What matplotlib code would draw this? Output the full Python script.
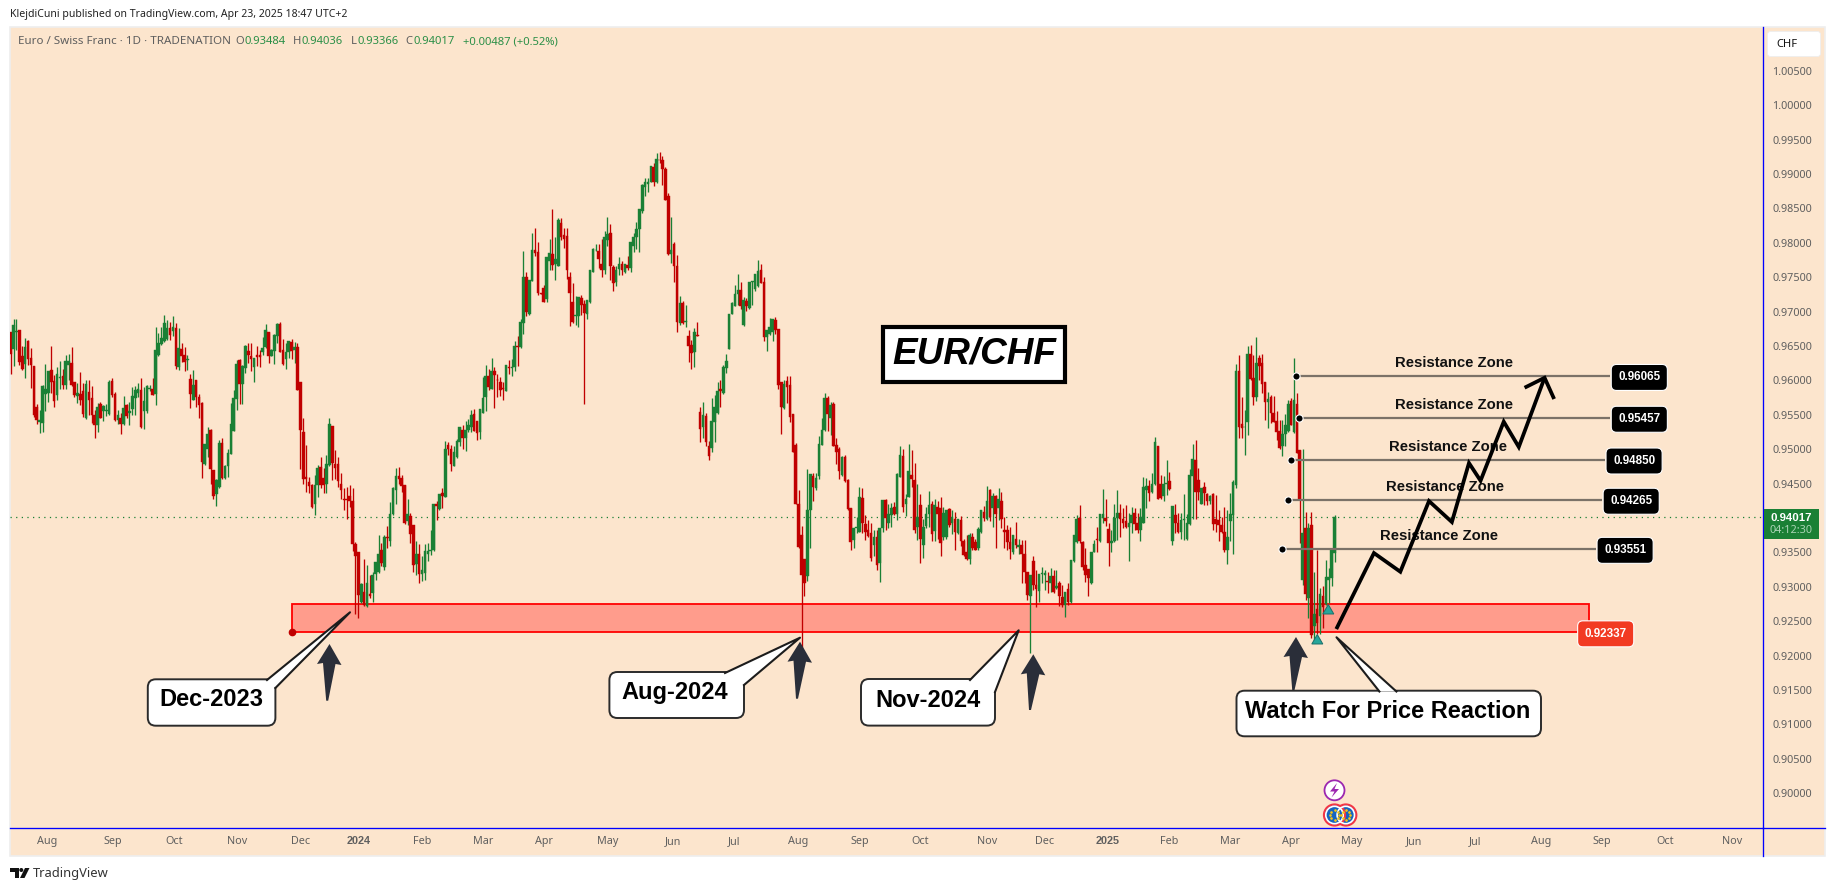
"""
EUR/CHF daily candles with support zone, resistance levels and projected path.
Output: out.png
"""
import numpy as np
import matplotlib
matplotlib.use("Agg")
import matplotlib.pyplot as plt
from matplotlib.patches import Rectangle, FancyBboxPatch, Polygon, Circle

plt.rcParams["font.family"] = ["Noto Sans", "DejaVu Sans"]
BOLD_FONT = "Liberation Sans"

# open, high, low, close per daily bar
bars_2023 = [
    (.9670,.9670,.9610,.9639),(.9646,.9689,.9621,.9681),(.9671,.9689,.9644,.9672),(.9674,.9674,.9622,.9627),
    (.9635,.9650,.9615,.9617),(.9624,.9661,.9604,.9648),(.9658,.9659,.9622,.9631),(.9632,.9647,.9589,.9622),
    (.9621,.9621,.9547,.9550),(.9561,.9566,.9537,.9542),(.9539,.9557,.9524,.9542),(.9538,.9593,.9525,.9592),
    (.9580,.9624,.9555,.9588),(.9582,.9614,.9569,.9614),(.9615,.9650,.9581,.9598),(.9599,.9608,.9562,.9570),
    (.9579,.9620,.9571,.9609),(.9604,.9628,.9588,.9605),(.9606,.9617,.9588,.9593),(.9593,.9637,.9588,.9628),
    (.9622,.9639,.9600,.9628),(.9625,.9648,.9592,.9593),(.9597,.9597,.9576,.9579),(.9577,.9596,.9567,.9581),
    (.9580,.9612,.9564,.9572),(.9585,.9596,.9547,.9551),(.9546,.9601,.9544,.9595),(.9583,.9601,.9550,.9572),
    (.9574,.9592,.9538,.9550),(.9550,.9557,.9517,.9535),(.9535,.9567,.9525,.9561),(.9566,.9569,.9545,.9546),
    (.9556,.9564,.9541,.9563),(.9556,.9566,.9548,.9557),(.9551,.9601,.9550,.9598),(.9599,.9603,.9576,.9579),
    (.9580,.9583,.9541,.9542),(.9543,.9557,.9537,.9550),(.9546,.9552,.9522,.9536),(.9536,.9577,.9535,.9560),
    (.9564,.9566,.9546,.9548),(.9552,.9569,.9535,.9555),(.9558,.9591,.9550,.9577),(.9574,.9592,.9550,.9586),
    (.9581,.9596,.9576,.9588),(.9586,.9603,.9531,.9533),(.9556,.9591,.9529,.9570),(.9556,.9593,.9552,.9592),
    (.9588,.9593,.9585,.9589),(.9588,.9604,.9579,.9579),(.9580,.9677,.9564,.9644),(.9637,.9669,.9635,.9655),
    (.9653,.9678,.9652,.9661),(.9658,.9695,.9656,.9683),(.9660,.9688,.9659,.9676),(.9676,.9685,.9659,.9666),
    (.9672,.9694,.9665,.9677),(.9676,.9683,.9617,.9621),(.9620,.9676,.9615,.9647),(.9645,.9655,.9627,.9635),
    (.9637,.9649,.9614,.9627),(.9629,.9637,.9615,.9631),(.9602,.9609,.9560,.9580),(.9572,.9615,.9572,.9594),
    (.9600,.9600,.9562,.9576),(.9576,.9580,.9546,.9564),(.9567,.9568,.9458,.9481),(.9478,.9507,.9477,.9507),
    (.9501,.9533,.9489,.9522),(.9528,.9530,.9449,.9471),(.9470,.9470,.9428,.9432),(.9435,.9456,.9417,.9455),
    (.9445,.9513,.9443,.9509),(.9509,.9516,.9457,.9458),(.9458,.9477,.9457,.9476),(.9475,.9500,.9460,.9494),
    (.9493,.9567,.9493,.9537),(.9527,.9586,.9526,.9575),(.9573,.9630,.9557,.9624),(.9629,.9631,.9566,.9595),
    (.9595,.9622,.9566,.9621),(.9618,.9651,.9611,.9650),(.9643,.9655,.9625,.9637),(.9636,.9654,.9613,.9631),
    (.9620,.9632,.9598,.9632),(.9637,.9650,.9621,.9634),(.9637,.9644,.9620,.9634),(.9642,.9663,.9637,.9647),
    (.9648,.9682,.9647,.9673),(.9670,.9671,.9625,.9636),(.9636,.9645,.9635,.9644),(.9643,.9668,.9624,.9666),
    (.9665,.9684,.9654,.9682),(.9682,.9685,.9641,.9642),(.9644,.9660,.9622,.9624),(.9631,.9655,.9617,.9642),
    (.9642,.9658,.9632,.9657),(.9656,.9660,.9631,.9643),(.9644,.9656,.9625,.9649),(.9648,.9655,.9586,.9586),
    (.9597,.9598,.9471,.9528),(.9525,.9546,.9449,.9457),(.9459,.9506,.9438,.9457),(.9453,.9460,.9436,.9447),
    (.9448,.9449,.9415,.9416),(.9420,.9462,.9404,.9448),(.9448,.9477,.9430,.9472),(.9474,.9489,.9443,.9448),
    (.9458,.9472,.9436,.9448),(.9449,.9491,.9436,.9479),(.9477,.9545,.9476,.9536),(.9534,.9534,.9455,.9480),
    (.9479,.9499,.9457,.9472),(.9479,.9489,.9445,.9454),(.9449,.9465,.9428,.9440),(.9427,.9443,.9412,.9426),
    (.9427,.9445,.9399,.9426),(.9432,.9448,.9416,.9424),(.9424,.9444,.9352,.9362),(.9362,.9365,.9261,.9345),
]
bars_h1_2024 = [
    (.9350,.9350,.9255,.9288),(.9278,.9305,.9277,.9304),(.9292,.9340,.9272,.9273),(.9272,.9332,.9271,.9306),
    (.9290,.9317,.9284,.9286),(.9291,.9322,.9278,.9317),(.9318,.9336,.9310,.9336),(.9322,.9375,.9320,.9348),
    (.9353,.9363,.9330,.9335),(.9329,.9375,.9324,.9372),(.9372,.9389,.9356,.9371),(.9367,.9423,.9359,.9406),
    (.9406,.9445,.9404,.9444),(.9440,.9472,.9421,.9461),(.9461,.9474,.9450,.9456),(.9458,.9462,.9438,.9446),
    (.9448,.9448,.9391,.9392),(.9395,.9427,.9390,.9406),(.9403,.9407,.9364,.9377),(.9390,.9390,.9322,.9331),
    (.9333,.9366,.9317,.9348),(.9348,.9362,.9306,.9318),(.9318,.9344,.9309,.9325),(.9320,.9362,.9310,.9352),
    (.9348,.9363,.9338,.9352),(.9352,.9382,.9346,.9354),(.9353,.9420,.9352,.9420),(.9420,.9424,.9397,.9418),
    (.9413,.9435,.9412,.9435),(.9436,.9443,.9414,.9432),(.9431,.9512,.9430,.9500),(.9506,.9511,.9491,.9501),
    (.9501,.9506,.9469,.9478),(.9475,.9504,.9475,.9496),(.9489,.9515,.9487,.9512),(.9511,.9532,.9505,.9532),
    (.9528,.9535,.9501,.9517),(.9516,.9541,.9498,.9528),(.9528,.9544,.9525,.9535),(.9533,.9557,.9525,.9550),
    (.9551,.9558,.9527,.9527),(.9541,.9541,.9513,.9524),(.9525,.9559,.9515,.9558),(.9553,.9605,.9553,.9575),
    (.9576,.9622,.9556,.9606),(.9606,.9617,.9586,.9591),(.9588,.9633,.9587,.9614),(.9614,.9619,.9560,.9608),
    (.9601,.9609,.9576,.9600),(.9598,.9605,.9577,.9586),(.9589,.9598,.9571,.9587),(.9585,.9622,.9585,.9622),
    (.9620,.9630,.9610,.9618),(.9618,.9631,.9607,.9620),(.9620,.9658,.9614,.9650),(.9650,.9664,.9621,.9648),
    (.9648,.9689,.9647,.9685),(.9684,.9788,.9667,.9750),(.9750,.9757,.9693,.9700),(.9697,.9746,.9695,.9746),
    (.9745,.9815,.9745,.9790),(.9790,.9821,.9781,.9786),(.9787,.9801,.9724,.9727),(.9727,.9727,.9725,.9726),
    (.9734,.9739,.9714,.9714),(.9718,.9779,.9714,.9779),(.9773,.9806,.9761,.9785),(.9784,.9849,.9761,.9768),
    (.9769,.9808,.9746,.9776),(.9766,.9836,.9766,.9833),(.9829,.9836,.9804,.9808),(.9811,.9821,.9793,.9806),
    (.9810,.9821,.9747,.9761),(.9751,.9757,.9679,.9727),(.9714,.9742,.9684,.9685),(.9694,.9723,.9681,.9695),
    (.9694,.9721,.9678,.9721),(.9720,.9724,.9695,.9710),(.9711,.9717,.9566,.9698),(.9696,.9717,.9690,.9717),
    (.9714,.9761,.9713,.9761),(.9758,.9793,.9758,.9791),(.9789,.9799,.9788,.9790),(.9788,.9798,.9763,.9776),
    (.9769,.9805,.9751,.9761),(.9760,.9817,.9755,.9808),(.9804,.9837,.9795,.9813),(.9815,.9827,.9746,.9766),
    (.9765,.9768,.9730,.9741),(.9743,.9766,.9737,.9761),(.9762,.9780,.9753,.9769),(.9769,.9774,.9753,.9761),
    (.9757,.9770,.9756,.9769),(.9768,.9781,.9761,.9764),(.9764,.9802,.9757,.9801),(.9796,.9814,.9787,.9808),
    (.9809,.9831,.9791,.9820),(.9820,.9849,.9787,.9849),(.9847,.9885,.9843,.9884),(.9881,.9895,.9868,.9888),
    (.9886,.9895,.9874,.9888),(.9889,.9912,.9888,.9912),(.9911,.9916,.9883,.9889),(.9888,.9930,.9887,.9922),
    (.9921,.9932,.9916,.9920),(.9920,.9926,.9884,.9907),(.9907,.9910,.9862,.9863),(.9868,.9872,.9782,.9784),
]
bars_h2_2024 = [
    (.9784,.9837,.9771,.9790),(.9798,.9802,.9743,.9766),(.9766,.9782,.9670,.9685),(.9684,.9723,.9680,.9712),
    (.9712,.9716,.9682,.9683),(.9685,.9710,.9678,.9686),(.9665,.9673,.9627,.9650),(.9652,.9659,.9617,.9640),
    (.9641,.9676,.9620,.9670),(.9666,.9685,.9664,.9665),(.9554,.9562,.9511,.9530),(.9532,.9569,.9517,.9550),
    (.9548,.9552,.9505,.9510),(.9505,.9512,.9484,.9490),(.9502,.9574,.9496,.9541),(.9539,.9579,.9510,.9561),
    (.9552,.9597,.9551,.9585),(.9587,.9601,.9562,.9584),(.9582,.9622,.9580,.9619),(.9618,.9639,.9611,.9628),
    (.9645,.9697,.9645,.9697),(.9697,.9714,.9696,.9713),(.9708,.9739,.9708,.9726),(.9726,.9755,.9710,.9731),
    (.9731,.9743,.9704,.9708),(.9681,.9721,.9679,.9717),(.9715,.9720,.9701,.9708),(.9705,.9743,.9704,.9743),
    (.9743,.9745,.9710,.9744),(.9733,.9755,.9730,.9755),(.9738,.9775,.9736,.9759),(.9761,.9770,.9741,.9741),
    (.9743,.9750,.9658,.9663),(.9663,.9673,.9643,.9673),(.9667,.9691,.9666,.9677),(.9670,.9690,.9658,.9689),
    (.9688,.9692,.9668,.9674),(.9675,.9675,.9588,.9593),(.9598,.9598,.9522,.9562),(.9560,.9600,.9559,.9595),
    (.9599,.9606,.9567,.9590),(.9593,.9607,.9540,.9547),(.9551,.9551,.9496,.9496),(.9506,.9509,.9420,.9421),
    (.9421,.9441,.9356,.9358),(.9375,.9388,.9205,.9317),(.9340,.9340,.9286,.9306),(.9315,.9471,.9309,.9412),
    (.9412,.9464,.9356,.9464),(.9461,.9465,.9425,.9445),(.9444,.9465,.9441,.9458),(.9461,.9519,.9456,.9508),
    (.9506,.9545,.9506,.9528),(.9528,.9581,.9527,.9575),(.9574,.9577,.9527,.9551),(.9545,.9569,.9520,.9564),
    (.9565,.9568,.9505,.9505),(.9506,.9517,.9478,.9496),(.9501,.9503,.9457,.9468),(.9462,.9490,.9461,.9488),
    (.9488,.9491,.9453,.9454),(.9455,.9456,.9412,.9413),(.9414,.9414,.9353,.9365),(.9368,.9386,.9356,.9386),
    (.9386,.9402,.9378,.9387),(.9380,.9445,.9379,.9430),(.9429,.9444,.9378,.9392),(.9391,.9404,.9368,.9380),
    (.9383,.9397,.9373,.9374),(.9378,.9392,.9338,.9342),(.9361,.9383,.9344,.9372),(.9372,.9383,.9324,.9332),
    (.9335,.9385,.9307,.9385),(.9385,.9426,.9380,.9426),(.9426,.9427,.9383,.9400),(.9392,.9421,.9385,.9406),
    (.9405,.9422,.9387,.9414),(.9416,.9423,.9405,.9406),(.9406,.9465,.9397,.9464),(.9460,.9505,.9459,.9491),
    (.9490,.9501,.9409,.9416),(.9421,.9435,.9403,.9428),(.9431,.9508,.9430,.9468),(.9462,.9499,.9445,.9457),
    (.9455,.9480,.9378,.9383),(.9387,.9450,.9368,.9402),(.9419,.9435,.9334,.9370),(.9360,.9399,.9342,.9387),
    (.9388,.9416,.9385,.9406),(.9406,.9439,.9387,.9419),(.9420,.9424,.9367,.9376),(.9381,.9428,.9366,.9419),
    (.9416,.9425,.9370,.9406),(.9415,.9431,.9345,.9364),(.9373,.9416,.9368,.9407),(.9373,.9412,.9370,.9411),
    (.9413,.9415,.9387,.9390),(.9392,.9412,.9377,.9401),(.9399,.9409,.9353,.9380),(.9378,.9399,.9376,.9399),
    (.9397,.9403,.9359,.9367),(.9367,.9370,.9344,.9346),(.9350,.9375,.9339,.9340),(.9341,.9378,.9333,.9375),
    (.9372,.9378,.9353,.9356),(.9365,.9370,.9353,.9354),(.9356,.9387,.9353,.9384),(.9379,.9411,.9378,.9411),
    (.9409,.9417,.9396,.9400),(.9399,.9446,.9397,.9424),(.9440,.9442,.9395,.9402),(.9414,.9436,.9387,.9432),
    (.9432,.9433,.9356,.9406),(.9414,.9443,.9397,.9427),(.9425,.9438,.9386,.9399),(.9383,.9402,.9356,.9380),
    (.9383,.9390,.9353,.9365),(.9365,.9387,.9341,.9355),(.9351,.9375,.9348,.9375),(.9370,.9394,.9356,.9360),
    (.9358,.9370,.9348,.9361),(.9360,.9368,.9305,.9347),(.9347,.9368,.9305,.9321),(.9322,.9322,.9280,.9288),
    (.9287,.9317,.9204,.9317),(.9337,.9345,.9295,.9302),(.9302,.9324,.9271,.9297),(.9294,.9319,.9278,.9318),
    (.9318,.9328,.9305,.9320),(.9317,.9324,.9295,.9320),(.9308,.9322,.9291,.9307),(.9305,.9327,.9292,.9316),
    (.9315,.9324,.9291,.9293),(.9298,.9324,.9296,.9301),(.9306,.9308,.9272,.9286),(.9285,.9303,.9271,.9274),
    (.9274,.9293,.9256,.9293),(.9296,.9305,.9273,.9278),(.9278,.9339,.9276,.9339),(.9337,.9375,.9336,.9375),
    (.9365,.9405,.9364,.9399),(.9400,.9419,.9363,.9367),(.9365,.9366,.9325,.9328),(.9332,.9357,.9307,.9317),
    (.9326,.9326,.9287,.9312),(.9305,.9350,.9304,.9350),
]
bars_2025 = [
    (.9351,.9368,.9350,.9362),(.9369,.9387,.9351,.9368),(.9367,.9406,.9365,.9406),(.9400,.9442,.9392,.9406),
    (.9400,.9428,.9388,.9395),(.9384,.9392,.9330,.9363),(.9364,.9382,.9351,.9366),(.9367,.9421,.9365,.9400),
    (.9400,.9440,.9368,.9407),(.9407,.9420,.9373,.9398),(.9398,.9414,.9385,.9393),(.9396,.9419,.9385,.9387),
    (.9387,.9407,.9338,.9393),(.9392,.9416,.9378,.9404),(.9407,.9414,.9382,.9391),(.9393,.9407,.9378,.9382),
    (.9383,.9414,.9367,.9402),(.9393,.9460,.9392,.9445),(.9440,.9458,.9414,.9447),(.9447,.9455,.9425,.9437),
    (.9438,.9465,.9436,.9450),(.9449,.9518,.9448,.9511),(.9504,.9504,.9427,.9428),(.9450,.9462,.9428,.9429),
    (.9432,.9461,.9425,.9450),(.9450,.9485,.9433,.9451),(.9454,.9467,.9441,.9442),(.9367,.9417,.9361,.9417),
    (.9404,.9420,.9378,.9393),(.9393,.9407,.9378,.9380),(.9379,.9407,.9370,.9397),(.9397,.9435,.9368,.9398),
    (.9370,.9406,.9368,.9392),(.9391,.9471,.9390,.9463),(.9461,.9508,.9399,.9486),(.9485,.9513,.9399,.9438),
    (.9455,.9472,.9426,.9438),(.9421,.9443,.9420,.9443),(.9445,.9453,.9419,.9436),(.9435,.9436,.9419,.9425),
    (.9425,.9433,.9420,.9432),(.9435,.9436,.9382,.9391),(.9398,.9433,.9380,.9391),(.9397,.9412,.9367,.9390),
    (.9390,.9402,.9378,.9380),(.9380,.9416,.9351,.9353),(.9353,.9411,.9333,.9372),(.9396,.9436,.9367,.9406),
    (.9404,.9455,.9348,.9452),(.9448,.9624,.9444,.9614),(.9614,.9637,.9516,.9532),(.9536,.9576,.9516,.9531),
    (.9532,.9557,.9491,.9533),(.9540,.9650,.9520,.9638),(.9638,.9652,.9601,.9602),(.9604,.9637,.9564,.9576),
    (.9576,.9663,.9570,.9626),(.9632,.9637,.9601,.9621),(.9625,.9638,.9581,.9595),(.9597,.9598,.9542,.9568),
    (.9569,.9583,.9531,.9573),(.9576,.9579,.9538,.9552),(.9552,.9577,.9539,.9540),(.9541,.9555,.9513,.9525),
    (.9526,.9543,.9501,.9502),(.9505,.9542,.9490,.9522),(.9522,.9551,.9504,.9535),(.9527,.9572,.9525,.9566),
    (.9570,.9574,.9535,.9535),(.9525,.9633,.9524,.9571),(.9566,.9581,.9494,.9495),(.9499,.9499,.9364,.9428),
    (.9310,.9501,.9302,.9378),(.9385,.9409,.9280,.9289),(.9284,.9393,.9255,.9385),(.9390,.9409,.9225,.9230),
    (.9243,.9322,.9222,.9260),(.9267,.9353,.9232,.9248),(.9257,.9298,.9231,.9290),(.9287,.9301,.9240,.9270),
    (.9275,.9339,.9273,.9314),(.9310,.9327,.9277,.9314),(.9313,.9354,.9301,.9353),(.93484,.94036,.93366,.94017),
]

last_close = 0.94017
price_ticks = [0.90, 0.905, 0.91, 0.915, 0.92, 0.925, 0.93, 0.935, 0.94, 0.945, 0.95,
               0.955, 0.96, 0.965, 0.97, 0.975, 0.98, 0.985, 0.99, 0.995, 1.0, 1.005]
month_bars = [12.5, 35.3, 56.4, 78.3, 100.2, 120.2, 142, 163, 184, 206, 228.6, 249.7,
              271.8, 293, 314, 337, 357, 378.5, 400, 421, 442, 463, 484.6, 505.5,
              528.3, 549.3, 571, 594.2]
month_labels = ["Aug", "Sep", "Oct", "Nov", "Dec", "2024", "Feb", "Mar", "Apr", "May", "Jun", "Jul",
                "Aug", "Sep", "Oct", "Nov", "Dec", "2025", "Feb", "Mar", "Apr", "May", "Jun", "Jul",
                "Aug", "Sep", "Oct", "Nov"]

res_levels = [0.96065, 0.95457, 0.94850, 0.94265, 0.93551]
res_start = [443.7, 444.7, 441.9, 440.9, 438.8]
res_end = [552.1, 552.1, 550.3, 549.3, 547.2]
res_text_bar = [498.2, 498.2, 496.1, 495.1, 493.0]
zone_bottom, zone_top = 0.92337, 0.92745
zone_start, zone_end = 97.2, 544.7
path_bars = [457.6, 470.6, 479.7, 489.6, 497.5, 503.4, 507.4, 515.4, 520.6, 529.5]
path_prices = [.92385, .93490, .93218, .94246, .93941, .94799, .94542, .95400, .95032, .96039]
head_bars = [522.6, 529.5, 532.8]
head_prices = [.95894, .96039, .95730]

BG = "#FCE5CD"
UP = "#1A8035"
DOWN = "#C00000"
BLUE = "#0000FF"
DARK = "#2A2E39"
TXT = "#5F5F5F"


def bubble(ov, box, tip, base1, base2, label, center):
    x0, y0, x1, y1 = box
    ov.add_patch(FancyBboxPatch((x0+5, y0+5), x1-x0-10, y1-y0-10, boxstyle="round,pad=5,rounding_size=8",
                                fc="white", ec="#2b2b2b", lw=1.4, zorder=5))
    ov.add_patch(Polygon([tip, base1, base2], closed=True, fc="white", ec="none", zorder=6))
    ov.plot([base1[0], tip[0], base2[0]], [base1[1], tip[1], base2[1]], color="#1c1c1c", lw=1.5, zorder=7)
    ov.text(center[0], center[1], label, ha="center", va="center", fontsize=17, fontweight="bold",
            family=BOLD_FONT, color="black", zorder=8)


def up_arrow(ov, tip, bottom):
    tx, ty = tip
    bx, by = bottom
    ov.add_patch(Polygon([(tx, ty), (tx+12, ty+21), (tx+6, ty+20), (bx+1, by), (bx-1, by), (tx-6.5, ty+19), (tx-12.5, ty+20)],
                         closed=True, fc=DARK, ec="none", zorder=4))


fig = plt.figure(figsize=(18.35, 8.91), dpi=100, facecolor="white")

# chart panel behind everything
bg = fig.add_axes([0, 0, 1, 1], zorder=0)
bg.set_xlim(0, 1835); bg.set_ylim(891, 0); bg.axis("off")
bg.add_patch(Rectangle((10, 27), 1815, 829, fc=BG, ec="#EEEEEE", lw=1.2))

ax = fig.add_axes([10/1835, (891-828)/891, 1753/1835, 801/891], zorder=1)
ax.patch.set_alpha(0)
ax.set_xlim(-0.24, 604.9)
ax.set_ylim(0.89492, 1.01139)

bars = np.array(bars_2023 + bars_h1_2024 + bars_h2_2024 + bars_2025)
x = np.arange(len(bars))
opens, highs, lows, closes = bars.T
colors = [UP if c >= o else DOWN for o, c in zip(opens, closes)]

# zone under the candles, its borders and dot
ax.add_patch(Rectangle((zone_start, zone_bottom), zone_end-zone_start, zone_top-zone_bottom,
                       fc="#FF9C8C", ec="#FF0000", lw=1.3, zorder=1))
ax.plot([zone_start], [zone_bottom], "o", color="#C00000", ms=4.5, zorder=3)

ax.vlines(x, lows, highs, colors=colors, lw=0.95, zorder=2)
ax.bar(x, np.abs(closes-opens), bottom=np.minimum(opens, closes), width=0.9, color=colors,
       edgecolor=colors, lw=0.3, zorder=2.1)

ax.axhline(last_close, color=UP, lw=0.9, ls=(0, (1, 3.5)), zorder=1.5)

# resistance levels
for lvl, s, e, tb in zip(res_levels, res_start, res_end, res_text_bar):
    ax.plot([s, e], [lvl, lvl], color="#7B7268", lw=1.6, zorder=3, solid_capstyle="butt")
    ax.plot([s], [lvl], "o", color="black", mec="white", mew=0.8, ms=5.2, zorder=3.5)
    ax.text(tb, lvl+0.00188, "Resistance Zone", ha="center", va="center", fontsize=10.7,
            fontweight="bold", family=BOLD_FONT, color="#111111", zorder=3.2)
    ax.text(e+10.1, lvl, f"{lvl:.5f}", ha="center", va="center_baseline", fontsize=8.4, fontweight="bold",
            family=BOLD_FONT, color="white", zorder=6,
            bbox=dict(boxstyle="round,pad=0.6,rounding_size=0.45", fc="black", ec="white", lw=0.8))

# projected path
ax.plot(path_bars, path_prices, color="black", lw=2.7, zorder=4, solid_joinstyle="miter", solid_capstyle="butt")
ax.plot(head_bars, head_prices, color="black", lw=2.7, zorder=4, solid_joinstyle="miter", solid_capstyle="butt")

ax.text(zone_end+5.9, zone_bottom, f"{zone_bottom:.5f}", ha="center", va="center_baseline", fontsize=8.4,
        fontweight="bold", family=BOLD_FONT, color="white", zorder=6,
        bbox=dict(boxstyle="round,pad=0.6,rounding_size=0.45", fc="#F23A22", ec="white", lw=0.8))

# axes furniture
for s in ("top", "left"):
    ax.spines[s].set_visible(False)
for s in ("right", "bottom"):
    ax.spines[s].set_color(BLUE)
    ax.spines[s].set_linewidth(0.95)
ax.yaxis.tick_right()
ax.set_yticks(price_ticks, [f"{p:.5f}" for p in price_ticks])
ax.set_xticks(month_bars, month_labels)
ax.tick_params(axis="y", length=0, pad=6.5, labelsize=7.8, labelcolor=TXT)
ax.tick_params(axis="x", length=0, pad=5.5, labelsize=7.8, labelcolor=TXT)
for lab in ax.get_xticklabels():
    if lab.get_text() in ("2024", "2025"):
        lab.set_fontweight("bold")
        lab.set_family(BOLD_FONT)

# overlay in figure pixels for callouts and page text
ov = fig.add_axes([0, 0, 1, 1], zorder=2)
ov.set_xlim(0, 1835); ov.set_ylim(891, 0); ov.axis("off")
ov.patch.set_alpha(0)

ov.plot([1763, 1825], [828, 828], color=BLUE, lw=0.95)
ov.plot([1763, 1763], [828, 856], color=BLUE, lw=0.95)

ov.text(10, 15, "KlejdiCuni published on TradingView.com, Apr 23, 2025 18:47 UTC+2", fontsize=7.55,
        color="#222222", va="center")
ov.text(18, 42, "Euro / Swiss Franc · 1D · TRADENATION", fontsize=8.35, color=TXT, va="center")
GREEN_T = "#2B8F47"
for px, letter, val in [(235.7, "O", "0.93484"), (293, "H", "0.94036"), (350.7, "L", "0.93366"), (405.7, "C", "0.94017")]:
    t = ov.text(px, 42, letter, fontsize=8.1, color=TXT, va="center")
    ov.annotate(val, xy=(1, 0.5), xycoords=t, xytext=(0.3, 0), textcoords="offset points",
                fontsize=8.1, color=GREEN_T, va="center")
ov.text(462.6, 42, "+0.00487 (+0.52%)", fontsize=8.1, color=GREEN_T, va="center")

# CHF button and last price tag
ov.add_patch(FancyBboxPatch((1770, 34), 48, 20, boxstyle="round,pad=2.5,rounding_size=3", fc="white", ec="#EEEEEE", lw=0.6))
ov.text(1786.5, 44.5, "CHF", fontsize=8, color="#111111", ha="center", va="center")
ov.add_patch(Rectangle((1764, 509), 55, 30, fc=UP, ec="none", zorder=5))
ov.text(1791, 518, "0.94017", fontsize=8.2, fontweight="bold", family=BOLD_FONT, color="white",
        ha="center", va="center", zorder=6)
ov.text(1791, 530.5, "04:12:30", fontsize=7.8, color="#A9D3B4", ha="center", va="center", zorder=6)

# title box
ov.add_patch(Rectangle((883, 327), 182, 55, fc="white", ec="black", lw=3, zorder=5))
ov.text(974, 354, "EUR/CHF", fontsize=26.6, fontweight="bold", fontstyle="italic", family=BOLD_FONT,
        color="black", ha="center", va="center", zorder=6)

# callouts
up_arrow(ov, (329.5, 644), (327.2, 700.7))
up_arrow(ov, (800, 641.7), (797, 698.7))
up_arrow(ov, (1033.3, 654.3), (1030, 710))
up_arrow(ov, (1296, 637), (1293.3, 691))
bubble(ov, (147.8, 679.3, 275.4, 725.7), (350, 612.3), (267, 680), (275.4, 688), "Dec-2023", (211.6, 700))
bubble(ov, (609.4, 672, 744, 718), (800, 637.7), (725, 673), (744, 685), "Aug-2024", (675, 693))
bubble(ov, (861, 679, 995, 725.6), (1018.7, 630.3), (970, 680), (995, 692), "Nov-2024", (928, 700.5))
bubble(ov, (1236.5, 690.7, 1541, 736.3), (1336.5, 637.3), (1379.4, 691.5), (1396.4, 691.5),
       "Watch For Price Reaction", (1388, 711.7))

# signal triangles
for cx, cy in [(1328.3, 610), (1317.3, 640)]:
    ov.add_patch(Polygon([(cx, cy-5.5), (cx+5.5, cy+4), (cx-5.5, cy+4)], closed=True, fc="#26A69A", ec="#1C6F6A", lw=0.7, zorder=5))

# event icons
ov.add_patch(Circle((1334.5, 790.3), 10, fc="white", ec="#9C27B0", lw=1.3, zorder=5))
ov.add_patch(Polygon([(1337, 783), (1330, 791.5), (1334.5, 791.5), (1331.5, 797.5), (1339, 789), (1334.5, 789)],
                     closed=True, fc="#9C27B0", ec="none", zorder=6))
for cx in (1345.8, 1334.5):
    ov.add_patch(Circle((cx, 815), 10.5, fc="#1565C0", ec="#F23645", lw=1.6, zorder=5))
    ov.add_patch(Circle((cx, 815), 8.7, fc="none", ec="white", lw=1.2, zorder=6))
    for a in np.arange(0, 360, 45):
        ov.plot(cx+4.6*np.cos(np.radians(a)), 815+4.6*np.sin(np.radians(a)), ".", color="#F5C518", ms=1.8, zorder=7)

# footer logo
ov.add_patch(Polygon([(10, 868), (19, 868), (19, 878), (15, 878), (15, 872), (10, 872)], closed=True, fc="#111111", ec="none"))
ov.add_patch(Circle((21.3, 870), 2, fc="#111111", ec="none"))
ov.add_patch(Polygon([(20, 878), (25, 868), (29.5, 868), (24.5, 878)], closed=True, fc="#111111", ec="none"))
ov.text(33, 873.5, "TradingView", fontsize=9.3, color="#333333", va="center")

fig.savefig("out.png", dpi=100, facecolor="white")
